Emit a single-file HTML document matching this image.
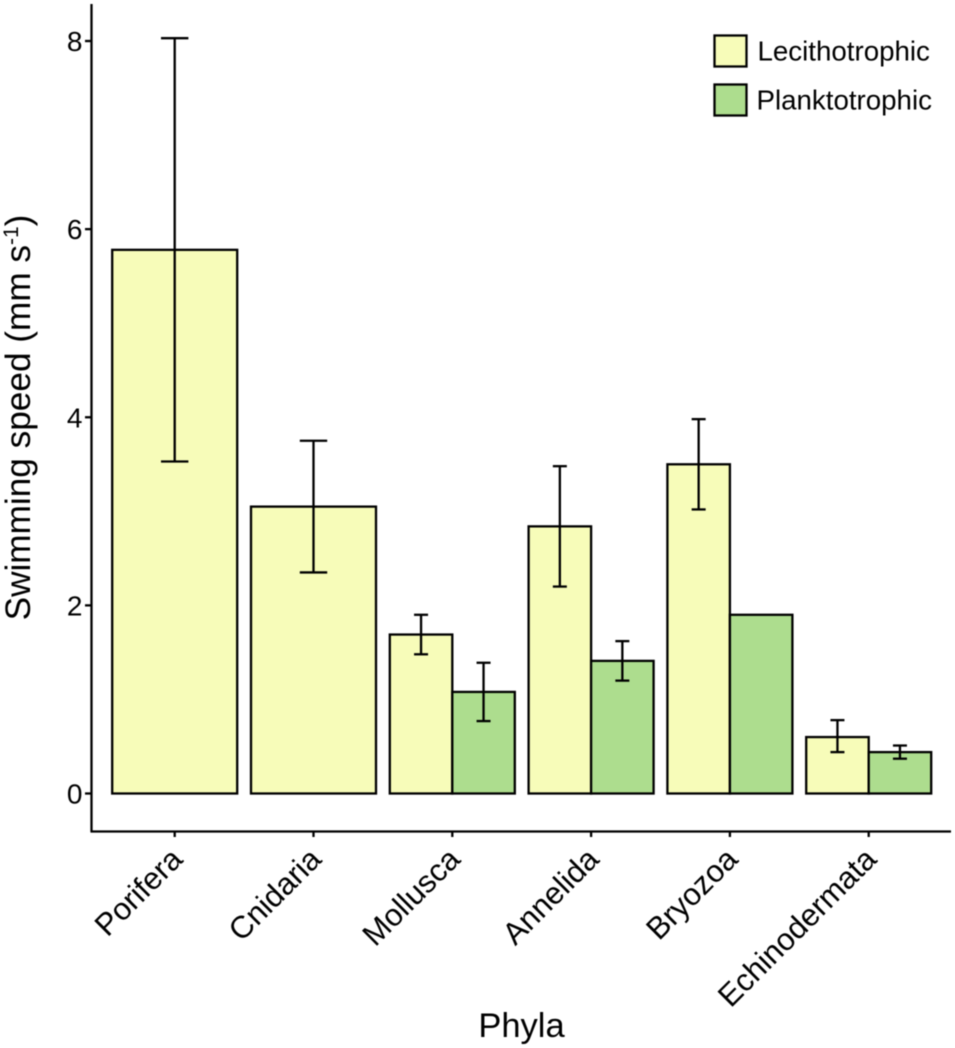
<!DOCTYPE html>
<html>
<head>
<meta charset="utf-8">
<title>Swimming speed by phyla</title>
<style>
html,body{margin:0;padding:0;background:#fff;width:955px;height:1048px;overflow:hidden}
svg{display:block;font-family:"Liberation Sans",Arial,sans-serif;filter:blur(0.4px)}
text{fill:#000}
</style>
</head>
<body>
<svg id="chart" width="955" height="1048" viewBox="0 0 955 1048" xmlns="http://www.w3.org/2000/svg">
  <g id="bars"></g>
  <g id="errors"></g>
  <g id="axes">
    <line x1="91.5" y1="4" x2="91.5" y2="832" stroke="#000" stroke-width="2.3"/>
    <line x1="90.5" y1="831.5" x2="951" y2="831.5" stroke="#000" stroke-width="2.3"/>
  </g>
  <text transform="translate(30,417.5) rotate(-90)" text-anchor="middle" font-size="35.2">Swimming speed (mm s<tspan font-size="21" dy="-12">-1</tspan><tspan dy="12">)</tspan></text>
  <text x="521.5" y="1037" text-anchor="middle" font-size="34.5">Phyla</text>
  <g>
    <rect x="714.5" y="35.5" width="32" height="31" fill="#f7fcb9" stroke="#000" stroke-width="2.3"/>
    <text x="757.5" y="60.5" font-size="27.7">Lecithotrophic</text>
    <rect x="714.5" y="84.5" width="32" height="31" fill="#addd8e" stroke="#000" stroke-width="2.3"/>
    <text x="756.5" y="109.5" font-size="27.7">Planktotrophic</text>
  </g>
</svg>
<script>
const categories = ["Porifera", "Cnidaria", "Mollusca", "Annelida", "Bryozoa", "Echinodermata"];
const lecithotrophic = [5.78, 3.05, 1.69, 2.84, 3.50, 0.60];
const lecithotrophicLow = [3.53, 2.35, 1.48, 2.20, 3.02, 0.44];
const lecithotrophicHigh = [8.03, 3.75, 1.90, 3.48, 3.98, 0.78];
const planktotrophic = [null, null, 1.08, 1.41, 1.90, 0.44];
const planktotrophicLow = [null, null, 0.77, 1.20, null, 0.37];
const planktotrophicHigh = [null, null, 1.39, 1.62, null, 0.51];
const yTicks = [0, 2, 4, 6, 8];

const NS = "http://www.w3.org/2000/svg";
function yScale(v) { return 793.5 - v * 94.06; }
function xScale(i) { return 174.7 + i * 138.8; }
const groupWidth = 125;

function make(tag, attrs, parent) {
  const el = document.createElementNS(NS, tag);
  for (const k in attrs) el.setAttribute(k, attrs[k]);
  parent.appendChild(el);
  return el;
}

const barsG = document.getElementById("bars");
const errG = document.getElementById("errors");
const axesG = document.getElementById("axes");

function drawBar(left, width, v, fill, name) {
  const r = make("rect", {x: left, y: yScale(v), width: width, height: yScale(0) - yScale(v), fill: fill, stroke: "#000", "stroke-width": 2.3}, barsG);
  
  
}

function drawError(cx, low, high, capHalf, name) {
  const g = make("g", {stroke: "#000", "stroke-width": 2.3}, errG);
  
  
  make("line", {x1: cx, x2: cx, y1: yScale(high), y2: yScale(low)}, g);
  make("line", {x1: cx - capHalf, x2: cx + capHalf, y1: yScale(high), y2: yScale(high)}, g);
  make("line", {x1: cx - capHalf, x2: cx + capHalf, y1: yScale(low), y2: yScale(low)}, g);
}

categories.forEach(function (cat, i) {
  const cx = xScale(i);
  const slug = cat.toLowerCase();
  const hasP = planktotrophic[i] !== null;
  if (hasP) {
    drawBar(cx - groupWidth / 2, groupWidth / 2, lecithotrophic[i], "#f7fcb9", "bar-lecithotrophic-" + slug);
    drawBar(cx, groupWidth / 2, planktotrophic[i], "#addd8e", "bar-planktotrophic-" + slug);
    drawError(cx - groupWidth / 4, lecithotrophicLow[i], lecithotrophicHigh[i], 7, "error-lecithotrophic-" + slug);
    if (planktotrophicLow[i] !== null) {
      drawError(cx + groupWidth / 4, planktotrophicLow[i], planktotrophicHigh[i], 7, "error-planktotrophic-" + slug);
    }
  } else {
    drawBar(cx - groupWidth / 2, groupWidth, lecithotrophic[i], "#f7fcb9", "bar-lecithotrophic-" + slug);
    drawError(cx, lecithotrophicLow[i], lecithotrophicHigh[i], 13.7, "error-lecithotrophic-" + slug);
  }

  const tick = make("line", {x1: cx, x2: cx, y1: 831, y2: 837, stroke: "#000", "stroke-width": 2.3}, axesG);
  
  

  const label = make("text", {transform: "translate(" + (cx + 9.5) + ",861) rotate(-45)", "text-anchor": "end", "font-size": 31}, axesG);
  
  
  label.textContent = cat;
});

yTicks.forEach(function (t) {
  const y = yScale(t);
  const tick = make("line", {x1: 85, x2: 91, y1: y, y2: y, stroke: "#000", "stroke-width": 2.3}, axesG);
  
  
  const label = make("text", {x: 82.5, y: y + 10, "text-anchor": "end", "font-size": 28}, axesG);
  
  
  label.textContent = String(t);
});
</script>
</body>
</html>
